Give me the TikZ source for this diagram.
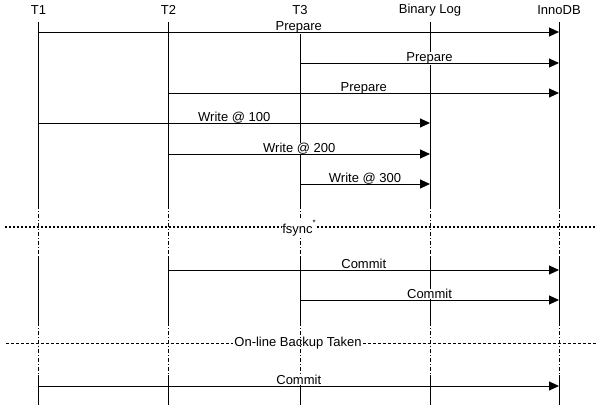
\documentclass[tikz,border=0pt]{standalone}
\usepackage{fontspec}
\setmainfont{Liberation Sans}
\usetikzlibrary{arrows.meta}
\begin{document}
\begin{tikzpicture}[x=1pt,y=-1pt,
  txt/.style={font=\fontsize{13}{15}\selectfont},
  head/.style={txt, inner sep=0pt, anchor=center},
  life/.style={line width=0.9pt},
  lifegap/.style={line width=0.9pt, dash pattern=on 4pt off 2pt on 1pt off 2pt},
  msg/.style={line width=0.9pt, -{Triangle[length=10pt,width=9pt]}},
  lbl/.style={txt, fill=white, inner sep=0.4pt, anchor=base, behind path, yshift=1.5pt},
  fsyncline/.style={line width=1.6pt, dash pattern=on 2pt off 2pt},
  backupline/.style={line width=0.9pt, dash pattern=on 3pt off 2pt},
  seplbl/.style={txt, inner sep=1pt, anchor=center}]
\useasboundingbox (0,0) rectangle (597,409);
% lifeline heads
\node[head] (T1) at (38.5,10) {T1};
\node[head] (T2) at (168.5,10) {T2};
\node[head] (T3) at (300,10) {T3};
\node[head] (BL) at (430,10) {Binary Log};
\node[head] (Inno) at (559,10) {InnoDB};
% lifelines
\foreach \X in {T1,T2,T3,BL,Inno}{
  \draw[life] (\X |- 0,22) -- (\X |- 0,205);
  \draw[lifegap] (\X |- 0,205) -- (\X |- 0,257);
  \draw[life] (\X |- 0,257) -- (\X |- 0,322);
  \draw[lifegap] (\X |- 0,322) -- (\X |- 0,375);
  \draw[life] (\X |- 0,375) -- (\X |- 0,405);
}
% rows
\coordinate (r1) at (0,32);
\coordinate (r2) at (0,63);
\coordinate (r3) at (0,93);
\coordinate (r4) at (0,123);
\coordinate (r5) at (0,154);
\coordinate (r6) at (0,184);
\coordinate (r7) at (0,270);
\coordinate (r8) at (0,300);
\coordinate (r9) at (0,386);
% messages
\draw[msg] (T1 |- r1) -- node[lbl] {Prepare} (Inno |- r1);
\draw[msg] (T3 |- r2) -- node[lbl] {Prepare} (Inno |- r2);
\draw[msg] (T2 |- r3) -- node[lbl] {Prepare} (Inno |- r3);
\draw[msg] (T1 |- r4) -- node[lbl] {Write @ 100} (BL |- r4);
\draw[msg] (T2 |- r5) -- node[lbl] {Write @ 200} (BL |- r5);
\draw[msg] (T3 |- r6) -- node[lbl] {Write @ 300} (BL |- r6);
\draw[msg] (T2 |- r7) -- node[lbl] {Commit} (Inno |- r7);
\draw[msg] (T3 |- r8) -- node[lbl] {Commit} (Inno |- r8);
\draw[msg] (T1 |- r9) -- node[lbl] {Commit} (Inno |- r9);
% separators
\node[seplbl, fill=white] (fs) at (299,228) {fsync\raisebox{1.1ex}{\fontsize{8}{9}\selectfont *}};
\coordinate (fsL) at (5,227);
\coordinate (fsR) at (597,227);
\draw[fsyncline] (fsL) -- (fsL -| fs.west);
\draw[fsyncline] (fsR -| fs.east) -- (fsR);
\node[seplbl] (bk) at (298,343) {On-line Backup Taken};
\coordinate (bkL) at (6,343);
\coordinate (bkR) at (597,343);
\draw[backupline] (bkL) -- (bkL -| bk.west);
\draw[backupline] (bkR -| bk.east) -- (bkR);
\end{tikzpicture}
\end{document}
